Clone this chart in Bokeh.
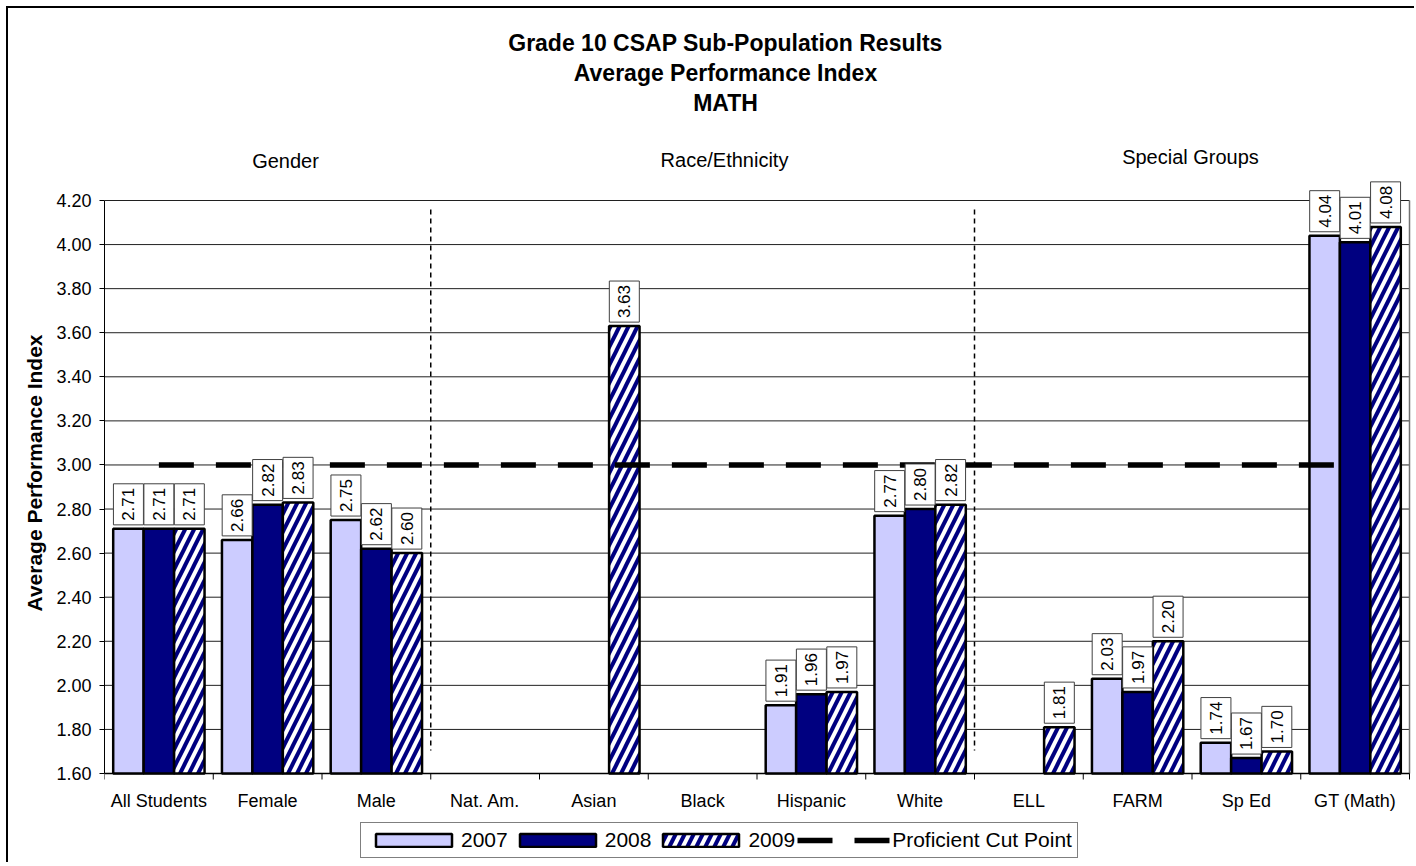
import math
from bokeh.plotting import figure
from bokeh.models import (ColumnDataSource, FixedTicker, NumeralTickFormatter,
                          Legend, LegendItem, Title)
from bokeh.core.properties import value
from bokeh.embed import file_html
from bokeh.resources import INLINE

# ---------------- data ----------------
categories = ["All Students", "Female", "Male", "Nat. Am.", "Asian", "Black",
              "Hispanic", "White", "ELL", "FARM", "Sp Ed", "GT (Math)"]
v2007 = [2.71, 2.66, 2.75, None, None, None, 1.91, 2.77, None, 2.03, 1.74, 4.04]
v2008 = [2.71, 2.82, 2.62, None, None, None, 1.96, 2.80, None, 1.97, 1.67, 4.01]
v2009 = [2.71, 2.83, 2.60, None, 3.63, None, 1.97, 2.82, 1.81, 2.20, 1.70, 4.08]
series_names = ["2007", "2008", "2009"]
cut_point = 3.00
cut_name = "Proficient Cut Point"
group_labels = ["Gender", "Race/Ethnicity", "Special Groups"]
title_lines = ["Grade 10 CSAP Sub-Population Results", "Average Performance Index", "MATH"]
y_label = "Average Performance Index"
y_ticks = [1.60, 1.80, 2.00, 2.20, 2.40, 2.60, 2.80, 3.00, 3.20, 3.40, 3.60, 3.80, 4.00, 4.20]
group_breaks = [2.5, 7.5]   # between Male/Nat. Am. and White/ELL

FONT = value("Liberation Sans")
LIGHT = "#CCCCFF"
NAVY = "#000080"
n = len(categories)
Y0, Y1 = y_ticks[0], y_ticks[-1]

# ---------------- layout (pixels) ----------------
W, H = 1408, 856              # canvas, placed at page (8, 8)
LEFT = 96                     # left panel width -> frame starts at page x 104
CAT_PX = 108.75               # pixels per category
PLOT_TOP, PLOT_BOT = 200, 773 # page y of 4.20 and 1.60
k = (Y1 - Y0) / (PLOT_BOT - PLOT_TOP)   # data units per pixel (y)

def py(page_y):
    return Y1 - (page_y - PLOT_TOP) * k

def px(page_x):
    return -0.5 + (page_x - 104) / CAT_PX

x_end = -0.5 + (W - LEFT) / CAT_PX
y_top = py(8)
y_bot = py(8 + H)

p = figure(width=W, height=H, x_range=(-0.5, x_end), y_range=(y_bot, y_top),
           output_backend="svg", toolbar_location=None, x_axis_location=None,
           min_border_left=LEFT, min_border_right=0, min_border_top=0, min_border_bottom=0)
p.styles = {"margin-left": "6px", "margin-top": "6px",
            "border-left": "2px solid black", "border-top": "2px solid black"}
p.background_fill_color = None
p.border_fill_color = None
p.outline_line_color = None

# horizontal gridlines (only across the plot area)
p.segment(x0=[-0.5] * len(y_ticks), x1=[n - 0.5] * len(y_ticks), y0=y_ticks, y1=y_ticks,
          line_color="#202020", line_width=1)
p.xgrid.grid_line_color = None
p.ygrid.grid_line_color = None
# right edge of plot area
p.segment(x0=[n - 0.5], x1=[n - 0.5], y0=[Y0], y1=[Y1], line_color="#707070", line_width=1.5)

# y axis
ya = p.yaxis[0]
ya.bounds = (Y0, Y1)
ya.ticker = FixedTicker(ticks=y_ticks)
ya.formatter = NumeralTickFormatter(format="0.00")
ya.major_tick_out = 5
ya.major_tick_in = 0
ya.minor_tick_line_color = None
ya.axis_line_color = "black"
ya.major_label_text_font = "Liberation Sans"
ya.major_label_text_font_size = "18px"
ya.major_label_text_color = "black"
ya.major_label_standoff = 8

# y axis title (side title, positioned along the plot area)
p.add_layout(Title(text=y_label, align="left", offset=253, standoff=16,
                   text_font="Liberation Sans", text_font_size="21px",
                   text_font_style="bold", text_color="black"), "left")

# x axis (category axis drawn at y = 1.60)
bounds = [i - 0.5 for i in range(n + 1)]
p.segment(x0=[-0.5], x1=[n - 0.5], y0=[Y0], y1=[Y0], line_color="black", line_width=1.5)
p.segment(x0=bounds, x1=bounds, y0=[Y0] * len(bounds), y1=[Y0 - 6 * k] * len(bounds),
          line_color="black", line_width=1)
p.text(x=list(range(n)), y=[py(800)] * n, text=categories, text_align="center",
       text_baseline="middle", text_font=FONT, text_font_size="18px", text_color="black")

# group separators (dotted)
p.segment(x0=group_breaks, x1=group_breaks, y0=[py(209)] * 2, y1=[py(750)] * 2,
          line_color="black", line_width=1.5, line_dash="5 4")

# bars
width = 0.28
offsets = [-width, 0.0, width]
styles = [dict(fill_color=LIGHT),
          dict(fill_color=NAVY),
          dict(fill_color="white", hatch_pattern="/", hatch_color=NAVY,
               hatch_scale=18, hatch_weight=4)]
renderers = []
label_x, label_y, label_t = [], [], []
for vals, off, st in zip([v2007, v2008, v2009], offsets, styles):
    xs = [i + off for i, v in enumerate(vals) if v is not None]
    ys = [v for v in vals if v is not None]
    src = ColumnDataSource(dict(x=xs, top=ys))
    r = p.vbar(x="x", top="top", bottom=Y0, width=width, source=src,
               line_color="black", line_width=2.5, **st)
    renderers.append(r)
    label_x += xs
    label_y += ys
    label_t += ["%.2f" % v for v in ys]

# proficient cut line
cut = p.line(x=list(range(n)), y=[cut_point] * n, line_color="black",
             line_width=5.5, line_dash="35 22", line_cap="butt")

# value labels (rotated, boxed)
p.text(x=label_x, y=label_y, text=label_t, angle=math.pi / 2,
       text_align="left", text_baseline="middle", y_offset=-4,
       text_font=FONT, text_font_size="17px", text_color="black",
       background_fill_color="white", border_line_color="#404040",
       border_line_width=1, padding=(4, 9))

# titles and group labels
p.text(x=[px(725)] * 3, y=[py(42), py(72), py(102)], text=title_lines,
       text_align="center", text_baseline="middle", text_font=FONT,
       text_font_size="23px", text_font_style="bold", text_color="black")
p.text(x=[px(285), px(724), px(1190)], y=[py(160), py(159), py(156)], text=group_labels,
       text_align="center", text_baseline="middle", text_font=FONT,
       text_font_size="20px", text_color="black")

# legend (inside the canvas, below the axis)
items = [LegendItem(label=nm, renderers=[r]) for nm, r in zip(series_names, renderers)]
items.append(LegendItem(label=cut_name, renderers=[cut]))
legend = Legend(items=items, orientation="horizontal", location=(256, 6),
                glyph_width=95, glyph_height=16, label_standoff=0, spacing=2,
                padding=5, margin=0, border_line_color="black", border_line_width=1,
                label_text_font="Liberation Sans", label_text_font_size="21px",
                label_text_color="black", background_fill_color="white",
                background_fill_alpha=1.0)
p.add_layout(legend)

open("out.html", "w").write(file_html(p, INLINE))
